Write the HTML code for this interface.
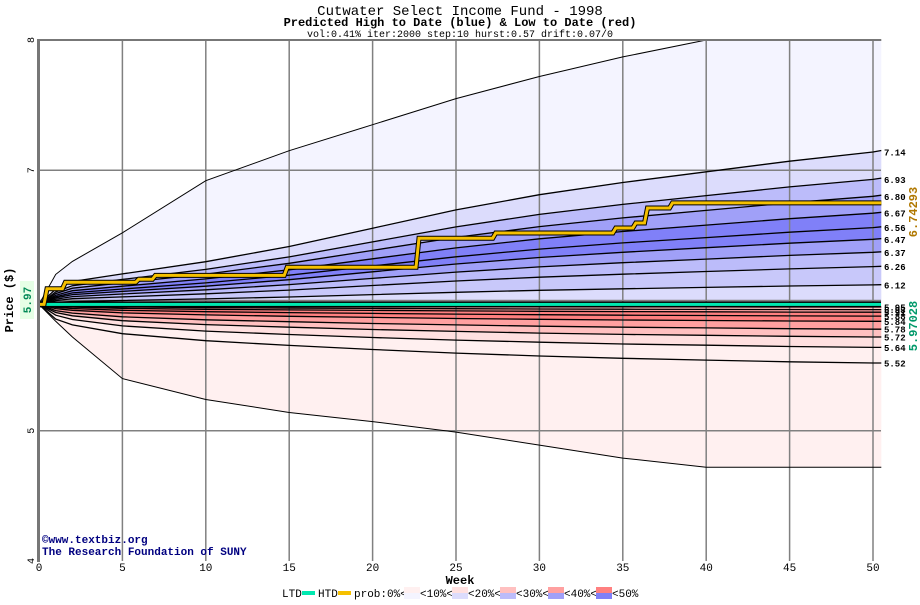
<!DOCTYPE html>
<html><head><meta charset="utf-8"><style>
body{margin:0;background:#fff;width:920px;height:600px;overflow:hidden}
svg text{font-family:"Liberation Mono",monospace}
</style></head><body>
<svg id="c" width="920" height="600" viewBox="0 0 920 600" xmlns="http://www.w3.org/2000/svg">
<text x="460" y="15" text-anchor="middle" font-size="14">Cutwater Select Income Fund - 1998</text>
<text x="460" y="26" text-anchor="middle" font-size="12" font-weight="bold">Predicted High to Date (blue) &amp;  Low to Date (red)</text>
<text x="460" y="37" text-anchor="middle" font-size="10">vol:0.41% iter:2000 step:10 hurst:0.57 drift:0.07/0</text>
<g id="bands"></g><g id="grid"></g><g id="lines"></g>
<rect x="37" y="39" width="3" height="523" fill="#777"/>
<rect x="37" y="39" width="844" height="2" fill="#777"/>
<text transform="translate(13,300) rotate(-90)" text-anchor="middle" font-size="12" font-weight="bold">Price ($)</text>
<rect x="20" y="281" width="14" height="38" fill="#e6ffe6"/>
<text transform="translate(31,300) rotate(-90)" text-anchor="middle" font-size="11" font-weight="bold" fill="#008855">5.97</text>
<text transform="translate(917,212) rotate(-90)" text-anchor="middle" font-size="12" font-weight="bold" fill="#b07800">6.74293</text>
<text transform="translate(917,326) rotate(-90)" text-anchor="middle" font-size="12" font-weight="bold" fill="#00996a">5.97028</text>
<text x="460" y="584" text-anchor="middle" font-size="12" font-weight="bold">Week</text>
<text x="42" y="543" font-size="11" font-weight="bold" fill="#000080">©www.textbiz.org</text>
<text x="42" y="555" font-size="11" font-weight="bold" fill="#000080">The Research Foundation of SUNY</text>
<g font-size="11">
<text x="282" y="597">LTD</text><rect x="302" y="591" width="13" height="4" fill="#00e8b0"/>
<text x="318" y="597">HTD</text><rect x="338" y="591" width="13" height="4" fill="#f5c000"/>
<text x="354" y="597">prob:0%&lt;</text>
<rect x="404" y="587" width="16" height="6" fill="#fff0f0"/><rect x="404" y="593" width="16" height="6" fill="#f4f4ff"/>
<text x="420" y="597">&lt;10%&lt;</text>
<rect x="452" y="587" width="16" height="6" fill="#ffe0e0"/><rect x="452" y="593" width="16" height="6" fill="#dcdcfc"/>
<text x="468" y="597">&lt;20%&lt;</text>
<rect x="500" y="587" width="16" height="6" fill="#ffc0c0"/><rect x="500" y="593" width="16" height="6" fill="#bcbcfa"/>
<text x="516" y="597">&lt;30%&lt;</text>
<rect x="548" y="587" width="16" height="6" fill="#ffa0a0"/><rect x="548" y="593" width="16" height="6" fill="#a0a0f8"/>
<text x="564" y="597">&lt;40%&lt;</text>
<rect x="596" y="587" width="16" height="6" fill="#ff8080"/><rect x="596" y="593" width="16" height="6" fill="#8080f8"/>
<text x="612" y="597">&lt;50%</text>
</g>
<g id="axes"></g>
</svg>
<script>
// data
const weeks = [0,1,2,5,10,15,20,25,30,35,40,45,50,50.5];
const upperEnvelope = [5.97,6.2,6.3,6.52,6.92,7.15,7.35,7.55,7.72,7.87,8.0,8.0,8.0,8.0];
const lowerEnvelope = [5.97,5.84,5.72,5.40,5.24,5.14,5.07,4.99,4.89,4.79,4.72,4.72,4.72,4.72];
const blueProfile = [0,0.1,0.15,0.2,0.28,0.38,0.5,0.62,0.72,0.8,0.87,0.94,1,1.01];
const redProfile = [0,0.25,0.35,0.5,0.62,0.7,0.77,0.83,0.88,0.92,0.95,0.98,1,1];
const highQuantiles = [7.14,6.93,6.80,6.67,6.56,6.47,6.37,6.26,6.12];
const lowQuantiles = [5.95,5.93,5.91,5.88,5.84,5.78,5.72,5.64,5.52];
const htdWeeks = [0,0.3,1.4,5.8,6.8,14.7,22.6,27.2,34.4,35.6,36.3,37.8];
const htdValues = [5.97,6.09,6.14,6.163,6.193,6.255,6.478,6.518,6.557,6.595,6.71,6.749];
const ltdValue = 5.97;
const startPrice = 5.97;
const xTicks = [0,5,10,15,20,25,30,35,40,45,50];
const yTicks = [4,5,7,8];

const X = w => 39 + w*16.68;
const Y = v => 40 + (8 - v)*130.25;
const NS = 'http://www.w3.org/2000/svg';
function mk(tag, parent, attrs){const e=document.createElementNS(NS,tag);for(const k in attrs)e.setAttribute(k,attrs[k]);parent.appendChild(e);return e;}
function pts(arr){return weeks.map((w,i)=>X(w).toFixed(1)+','+Y(arr[i]).toFixed(1));}
function qline(end, prof){return weeks.map((w,i)=>startPrice+(end-startPrice)*prof[i]);}

const blueCols = ['#f4f4ff','#dcdcfc','#bcbcfa','#a0a0f8','#8080f8','#8080f8','#a0a0f8','#bcbcfa','#c8c8fa','#dcdcfc'];
const redCols = ['#ffe0e0','#ffc0c0','#ffa0a0','#ff8080','#ff8080','#ffa0a0','#ffc0c0','#ffe0e0','#fff0f0','#fff0f0'];
const bands = document.getElementById('bands');
const linesG = document.getElementById('lines');
const hiSeries = [upperEnvelope.map(v=>Math.min(v,8))].concat(highQuantiles.map(q=>qline(q,blueProfile))).concat([weeks.map(()=>startPrice)]);
for(let i=0;i<hiSeries.length-1;i++){
  const p = mk('polygon', bands, {points: pts(hiSeries[i]).concat(pts(hiSeries[i+1]).reverse()).join(' '), fill: blueCols[i]});
  
  
}
const loSeries = [weeks.map(()=>startPrice)].concat(lowQuantiles.map(q=>qline(q,redProfile))).concat([lowerEnvelope]);
for(let i=0;i<loSeries.length-1;i++){
  const p = mk('polygon', bands, {points: pts(loSeries[i]).concat(pts(loSeries[i+1]).reverse()).join(' '), fill: redCols[i]});
  
  
}
const grid = document.getElementById('grid');
xTicks.forEach(t=>{ if(t===0) return;
  const l = mk('line', grid, {x1:X(t),x2:X(t),y1:40,y2:561,stroke:'#808080','stroke-width':1.5});
  
  
});
[5,6,7].forEach(v=>{
  const l = mk('line', grid, {x1:39,x2:881,y1:Y(v),y2:Y(v),stroke:'#808080','stroke-width':1.5});
  
  
});
[upperEnvelope.map(v=>Math.min(v,8)), lowerEnvelope].forEach(s=>{
  const l = mk('polyline', linesG, {points: pts(s).join(' '), fill:'none', stroke:'#000', 'stroke-width':1});
  
  
});
highQuantiles.concat(lowQuantiles).forEach((q,i)=>{
  const s = qline(q, i<highQuantiles.length?blueProfile:redProfile);
  const l = mk('polyline', linesG, {points: pts(s).join(' '), fill:'none', stroke:'#000', 'stroke-width':1.3});
  
  
  const t = mk('text', linesG, {x:884, y:Y(q)+3.5, 'font-size':9, 'font-weight':'bold'});
  t.textContent = q.toFixed(2);
  
  
});
const ltdY = Y(ltdValue);
const lb = mk('rect', linesG, {x:39,y:ltdY-3,width:842,height:6,fill:'#000'});


const ll = mk('rect', linesG, {x:39,y:ltdY-1.5,width:842,height:3,fill:'#00e8b0'});


let hp = [];
htdWeeks.forEach((w,i)=>{
  if(i>0) hp.push(X(w).toFixed(1)+','+Y(htdValues[i-1]).toFixed(1));
  hp.push((X(w)+(i>0?3:0)).toFixed(1)+','+Y(htdValues[i]).toFixed(1));
});
hp.push(X(50.5)+','+Y(htdValues[htdValues.length-1]).toFixed(1));
const h1 = mk('polyline', linesG, {points: hp.join(' '), fill:'none', stroke:'#000', 'stroke-width':5});


const h2 = mk('polyline', linesG, {points: hp.join(' '), fill:'none', stroke:'#f5c000', 'stroke-width':3});


const axes = document.getElementById('axes');
xTicks.forEach(t=>{
  const e = mk('text', axes, {x:X(t), y:571, 'text-anchor':'middle', 'font-size':11});
  e.textContent = t;
  
  
});
yTicks.forEach(v=>{
  const e = mk('text', axes, {transform:'translate(34,'+Y(v)+') rotate(-90)', 'text-anchor':'middle', 'font-size':10});
  e.textContent = v;
  
  
});
</script>
</body></html>
